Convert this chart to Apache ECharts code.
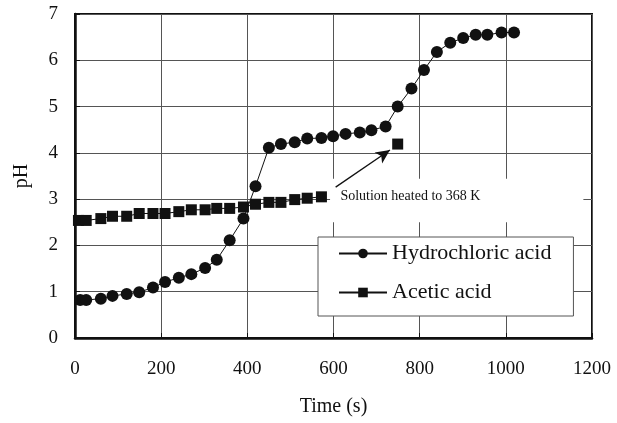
<!DOCTYPE html>
<html>
<head>
<meta charset="utf-8">
<script src="https://cdn.jsdelivr.net/npm/echarts@6/dist/echarts.min.js"></script>
<style>
  html, body { margin: 0; padding: 0; background: #fff; }
  #chart { width: 617px; height: 423px; }
</style>
</head>
<body>
<div id="chart"></div>
<script>
// pH of two acids over time
const hclTime = [12, 26, 60, 87, 120, 149, 181, 209, 241, 270, 302, 329, 359, 391, 419, 450, 478, 510, 539, 572,
                 599, 628, 661, 688, 721, 749, 781, 810, 840, 871, 901, 930, 957, 990, 1019];
const hclPH = [0.82, 0.82, 0.85, 0.91, 0.95, 0.99, 1.09, 1.21, 1.30, 1.38, 1.51, 1.69, 2.11, 2.58, 3.28, 4.11, 4.19, 4.23, 4.31, 4.32,
               4.36, 4.41, 4.44, 4.49, 4.57, 5.00, 5.39, 5.79, 6.18, 6.38, 6.48, 6.55, 6.55, 6.60, 6.60];

const aceticTime = [8, 26, 60, 87, 120, 149, 181, 209, 241, 270, 302, 329, 359, 391, 419, 450, 478, 510, 539, 572];
const aceticPH = [2.54, 2.54, 2.58, 2.63, 2.63, 2.69, 2.69, 2.69, 2.73, 2.77, 2.77, 2.80, 2.80, 2.83, 2.89, 2.93, 2.93, 2.99, 3.02, 3.05];

// reading taken after heating the acetic acid solution
const heatedTime = [749];
const heatedPH = [4.19];
const heatedNote = 'Solution heated to 368 K';

const xTicks = { min: 0, max: 1200, step: 200 };
const yTicks = { min: 0, max: 7, step: 1 };

const FONT = '"Liberation Serif", "DejaVu Serif", serif';
const INK = '#111';

const hclData = hclTime.map((t, i) => [t, hclPH[i]]);
const aceticData = aceticTime.map((t, i) => [t, aceticPH[i]]);
// a gap so the heated reading stands alone
aceticData.push([heatedTime[0] - 80, '-']);
heatedTime.forEach((t, i) => aceticData.push([t, heatedPH[i]]));

const chart = echarts.init(document.getElementById('chart'), null, { renderer: 'canvas' });

chart.setOption({
  animation: false,
  backgroundColor: '#fff',
  textStyle: { fontFamily: FONT },
  grid: {
    left: 75, top: 14, right: 25, bottom: 85,
    show: true, borderColor: INK, borderWidth: 2, backgroundColor: 'transparent'
  },
  legend: {
    orient: 'vertical',
    left: 318, top: 237,
    padding: [4, 22, 11, 20],
    itemGap: 14,
    itemWidth: 48, itemHeight: 12,
    backgroundColor: '#fff',
    borderColor: '#555', borderWidth: 1,
    textStyle: { fontFamily: FONT, fontSize: 22, color: INK, lineHeight: 25 },
    data: ['Hydrochloric acid', 'Acetic acid']
  },
  xAxis: {
    type: 'value',
    min: xTicks.min, max: xTicks.max, interval: xTicks.step,
    name: 'Time (s)', nameLocation: 'middle', nameGap: 59,
    nameTextStyle: { fontFamily: FONT, fontSize: 20, color: INK },
    axisLine: { lineStyle: { color: INK, width: 2.5 } },
    axisTick: { inside: true, length: 5, lineStyle: { color: INK } },
    axisLabel: { fontFamily: FONT, fontSize: 19, color: INK, margin: 22, formatter: v => String(v) },
    splitLine: { show: true, lineStyle: { color: '#555', width: 1 } }
  },
  yAxis: {
    type: 'value',
    min: yTicks.min, max: yTicks.max, interval: yTicks.step,
    name: 'pH', nameLocation: 'middle', nameGap: 43,
    nameTextStyle: { fontFamily: FONT, fontSize: 20, color: INK },
    axisLine: { show: true, lineStyle: { color: INK, width: 2.5 } },
    axisTick: { show: true, inside: true, length: 5, lineStyle: { color: INK } },
    axisLabel: { fontFamily: FONT, fontSize: 19, color: INK, margin: 17 },
    splitLine: { show: true, lineStyle: { color: '#555', width: 1 } }
  },
  series: [
    {
      name: 'Hydrochloric acid',
      type: 'line',
      data: hclData,
      symbol: 'circle', symbolSize: 12,
      itemStyle: { color: INK },
      lineStyle: { color: INK, width: 1 },
      z: 3
    },
    {
      name: 'Acetic acid',
      type: 'line',
      data: aceticData,
      connectNulls: false,
      symbol: 'rect', symbolSize: 11,
      itemStyle: { color: INK },
      lineStyle: { color: INK, width: 1 },
      z: 3,
      markLine: {
        silent: true,
        symbol: ['none', 'arrow'],
        symbolSize: [10, 14],
        label: { show: false },
        lineStyle: { color: INK, width: 1.3, type: 'solid' },
        data: [[{ coord: [605, 3.26] }, { coord: [731, 4.06] }]]
      }
    }
  ]
});

// white panel behind the note, placed from data coordinates
const boxTL = chart.convertToPixel({ gridIndex: 0 }, [592, 3.44]);
const boxBR = chart.convertToPixel({ gridIndex: 0 }, [1180, 2.5]);
const noteAt = chart.convertToPixel({ gridIndex: 0 }, [616, 3.0]);
chart.setOption({
  graphic: [
    {
      type: 'rect', z: 1,
      shape: { x: boxTL[0], y: boxTL[1], width: boxBR[0] - boxTL[0], height: boxBR[1] - boxTL[1] },
      style: { fill: '#fff' }
    },
    {
      type: 'text', z: 5,
      x: noteAt[0], y: noteAt[1] - 3,
      style: { text: heatedNote, font: '14px ' + FONT, fill: INK, textVerticalAlign: 'middle' }
    }
  ]
});
</script>
</body>
</html>
